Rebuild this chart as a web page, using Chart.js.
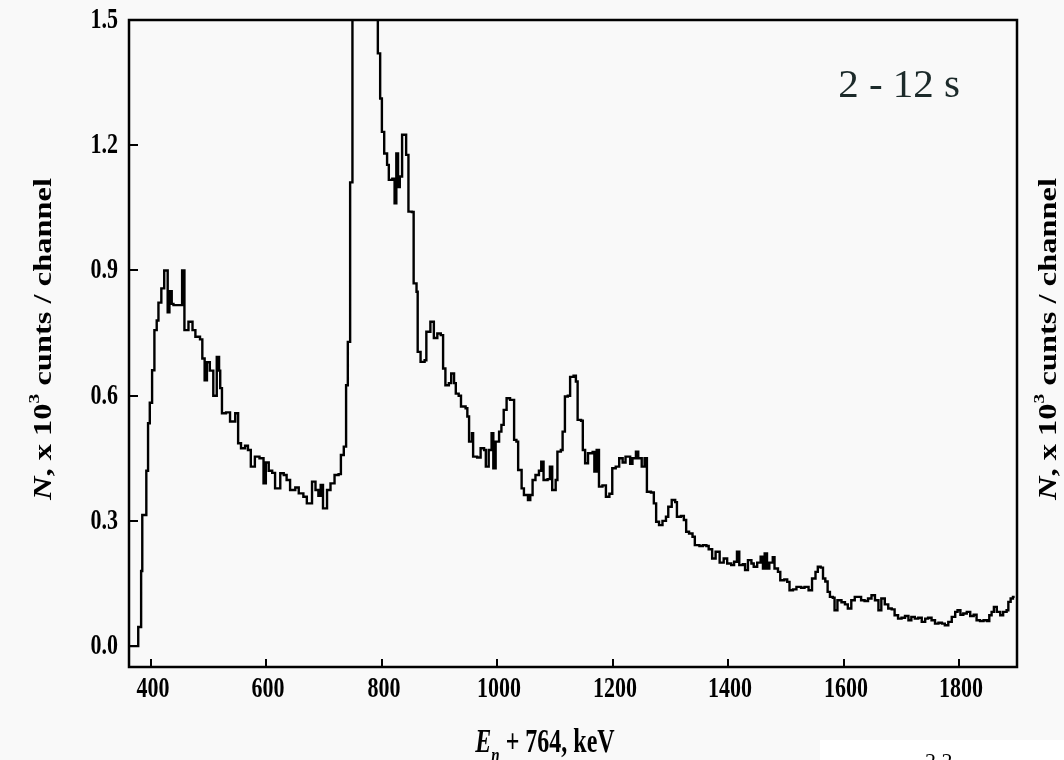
<!DOCTYPE html>
<html>
<head>
<meta charset="utf-8">
<script src="https://cdn.jsdelivr.net/npm/chart.js@4.4.0/dist/chart.umd.min.js"></script>
<style>
  html, body { margin: 0; padding: 0; background: #f9f9f9; }
</style>
</head>
<body>
<canvas id="spectrum" width="1064" height="760"></canvas>
<script>
// channel energy (E_n + 764, keV) where each step starts
var energy = [
  363, 378, 383, 385, 392, 395, 398, 402, 406, 410, 413, 418, 423, 429, 432, 436, 439, 446,
  454, 458, 465, 472, 477, 485, 489, 493, 497, 502, 508, 514, 518, 520, 523, 530, 537, 546,
  551, 556, 563, 568, 573, 580, 588, 595, 599, 604, 610, 615, 624, 630, 635, 641, 650, 656,
  664, 670, 679, 685, 690, 694, 698, 705, 711, 718, 725, 729, 734, 738, 741, 745, 749, 760,
  770, 780, 786, 793, 797, 800, 804, 809, 812, 818, 822, 825, 828, 831, 835, 842, 846, 852,
  855, 860, 862, 867, 874, 877, 884, 890, 896, 902, 906, 910, 916, 920, 925, 928, 933, 937,
  945, 948, 951, 956, 958, 965, 971, 977, 980, 985, 990, 993, 997, 1003, 1007, 1011, 1016, 1022,
  1029, 1033, 1036, 1042, 1046, 1053, 1057, 1061, 1066, 1072, 1076, 1080, 1087, 1091, 1095, 1101, 1104, 1110,
  1113, 1117, 1122, 1126, 1132, 1136, 1139, 1145, 1148, 1152, 1157, 1165, 1168, 1172, 1176, 1182, 1188, 1194,
  1199, 1205, 1211, 1217, 1222, 1230, 1234, 1240, 1244, 1250, 1255, 1259, 1266, 1271, 1275, 1280, 1286, 1292,
  1296, 1302, 1308, 1311, 1318, 1323, 1327, 1332, 1338, 1342, 1350, 1356, 1362, 1366, 1372, 1378, 1385, 1392,
  1398, 1405, 1410, 1415, 1419, 1425, 1429, 1434, 1440, 1444, 1450, 1456, 1460, 1463, 1467, 1471, 1477, 1480,
  1486, 1490, 1497, 1502, 1506, 1512, 1518, 1526, 1532, 1539, 1545, 1551, 1555, 1560, 1564, 1568, 1572, 1576,
  1581, 1584, 1589, 1596, 1602, 1607, 1613, 1619, 1625, 1630, 1636, 1642, 1648, 1654, 1660, 1665, 1671, 1677,
  1683, 1688, 1694, 1700, 1706, 1712, 1717, 1723, 1729, 1735, 1741, 1746, 1752, 1758, 1764, 1770, 1775, 1781,
  1787, 1793, 1797, 1802, 1807, 1813, 1819, 1825, 1830, 1836, 1842, 1848, 1852, 1856, 1860, 1865, 1871, 1876,
  1882, 1885, 1889, 1893, 1896
];
// counts, x 10^3 per channel
var counts = [
  0.0, 0.046, 0.18, 0.314, 0.42, 0.534, 0.583, 0.661, 0.757, 0.78, 0.823, 0.857, 0.9, 0.8, 0.85, 0.82, 0.817, 0.817,
  0.9, 0.757, 0.777, 0.757, 0.741, 0.735, 0.689, 0.637, 0.68, 0.66, 0.6, 0.693, 0.66, 0.618, 0.558, 0.56, 0.538, 0.558,
  0.486, 0.474, 0.48, 0.47, 0.43, 0.454, 0.45, 0.39, 0.44, 0.42, 0.415, 0.378, 0.414, 0.41, 0.398, 0.374, 0.38, 0.366,
  0.358, 0.342, 0.394, 0.374, 0.36, 0.386, 0.33, 0.374, 0.39, 0.41, 0.412, 0.458, 0.478, 0.625, 0.729, 1.111, 2.2, 3.5,
  4.0, 3.0, 2.0, 1.42, 1.312, 1.232, 1.18, 1.153, 1.117, 1.12, 1.061, 1.18, 1.1, 1.125, 1.225, 1.177, 1.041, 1.04,
  0.869, 0.849, 0.705, 0.681, 0.685, 0.753, 0.777, 0.738, 0.749, 0.745, 0.665, 0.625, 0.63, 0.653, 0.63, 0.605, 0.6, 0.574,
  0.57, 0.55, 0.49, 0.51, 0.454, 0.452, 0.474, 0.47, 0.43, 0.47, 0.51, 0.426, 0.49, 0.514, 0.53, 0.566, 0.594, 0.59,
  0.494, 0.49, 0.422, 0.378, 0.362, 0.35, 0.362, 0.398, 0.41, 0.42, 0.442, 0.398, 0.4, 0.43, 0.374, 0.398, 0.466, 0.47,
  0.514, 0.598, 0.6, 0.645, 0.648, 0.634, 0.542, 0.54, 0.47, 0.438, 0.462, 0.465, 0.418, 0.47, 0.382, 0.385, 0.358, 0.365,
  0.426, 0.43, 0.45, 0.44, 0.454, 0.437, 0.45, 0.466, 0.45, 0.43, 0.45, 0.37, 0.368, 0.342, 0.298, 0.29, 0.3, 0.31,
  0.334, 0.35, 0.345, 0.31, 0.312, 0.302, 0.274, 0.27, 0.262, 0.242, 0.24, 0.242, 0.24, 0.232, 0.21, 0.226, 0.2, 0.21,
  0.198, 0.194, 0.202, 0.226, 0.194, 0.196, 0.182, 0.206, 0.198, 0.19, 0.2, 0.214, 0.186, 0.222, 0.186, 0.2, 0.213, 0.186,
  0.178, 0.158, 0.16, 0.154, 0.134, 0.136, 0.142, 0.14, 0.142, 0.134, 0.162, 0.178, 0.19, 0.188, 0.162, 0.155, 0.13, 0.118,
  0.116, 0.086, 0.11, 0.105, 0.1, 0.09, 0.11, 0.118, 0.118, 0.11, 0.108, 0.114, 0.122, 0.11, 0.086, 0.114, 0.1, 0.09,
  0.088, 0.074, 0.066, 0.068, 0.072, 0.062, 0.07, 0.066, 0.068, 0.058, 0.066, 0.068, 0.062, 0.054, 0.056, 0.054, 0.05, 0.058,
  0.07, 0.082, 0.086, 0.075, 0.078, 0.082, 0.072, 0.075, 0.062, 0.06, 0.062, 0.06, 0.074, 0.082, 0.094, 0.082, 0.074, 0.082,
  0.086, 0.106, 0.114, 0.118, 0.118
];
var xTicks = [400, 600, 800, 1000, 1200, 1400, 1600, 1800];
var yTicks = [0.0, 0.3, 0.6, 0.9, 1.2, 1.5];
var timeLabel = '2 - 12 s';

var serif = '"Liberation Serif", "Times New Roman", serif';
var STRETCH = 1.3; // the scanned labels are taller than they are wide

// draw a run of differently styled pieces, centred on (cx, cy)
function richText(ctx, parts, cx, cy, rot, sx, sy) {
  ctx.save();
  ctx.translate(cx, cy);
  ctx.rotate(rot);
  ctx.scale(sx, sy);
  ctx.textAlign = 'left';
  ctx.textBaseline = 'alphabetic';
  var total = 0;
  parts.forEach(function (p) {
    ctx.font = p.font;
    p.w = ctx.measureText(p.text).width;
    total += p.w;
  });
  var x = -total / 2;
  parts.forEach(function (p) {
    ctx.font = p.font;
    ctx.fillText(p.text, x, p.dy || 0);
    x += p.w;
  });
  ctx.restore();
}

function tallText(ctx, text, x, y, align) {
  ctx.save();
  ctx.translate(x, y);
  ctx.scale(1, STRETCH);
  ctx.textAlign = align;
  ctx.textBaseline = 'middle';
  ctx.fillText(text, 0, 0);
  ctx.restore();
}

var framePlugin = {
  id: 'frame',
  beforeDraw: function (chart) {
    var ctx = chart.ctx;
    ctx.save();
    ctx.fillStyle = '#f9f9f9';
    ctx.fillRect(0, 0, chart.width, chart.height);
    ctx.restore();
  },
  afterDraw: function (chart) {
    var ctx = chart.ctx, a = chart.chartArea;
    var xs = chart.scales.x, ys = chart.scales.y;
    ctx.save();
    ctx.strokeStyle = '#000';
    ctx.lineWidth = 2.5;
    ctx.strokeRect(a.left, a.top, a.right - a.left, a.bottom - a.top);

    // inward ticks and their labels
    ctx.lineWidth = 2;
    ctx.fillStyle = '#000';
    ctx.font = 'bold 22px ' + serif;
    ctx.beginPath();
    ys.ticks.forEach(function (t) {
      var py = Math.round(ys.getPixelForValue(t.value));
      ctx.moveTo(a.left, py);
      ctx.lineTo(a.left + 9, py);
      tallText(ctx, t.value.toFixed(1), a.left - 11, py + 1, 'right');
    });
    xs.ticks.forEach(function (t) {
      var px = Math.round(xs.getPixelForValue(t.value));
      ctx.moveTo(px, a.bottom);
      ctx.lineTo(px, a.bottom - 8);
      tallText(ctx, String(t.value), px + 2, a.bottom + 23, 'center');
    });
    ctx.stroke();

    var yTitle = [
      { text: 'N', font: 'italic bold 25px ' + serif },
      { text: ', x 10', font: 'bold 25px ' + serif },
      { text: '3', font: 'bold 15px ' + serif, dy: -12 },
      { text: ' cunts / channel', font: 'bold 25px ' + serif }
    ];
    richText(ctx, yTitle, 51, 339, -Math.PI / 2, STRETCH, 1);
    richText(ctx, yTitle, 1056, 339, -Math.PI / 2, STRETCH, 1);

    richText(ctx, [
      { text: 'E', font: 'italic bold 24px ' + serif },
      { text: 'n', font: 'italic bold 15px ' + serif, dy: 7 },
      { text: ' + 764, keV', font: 'bold 24px ' + serif }
    ], 545, 752, 0, 1, 1.4);

    ctx.fillStyle = '#1c2a2a';
    ctx.font = '41px ' + serif;
    ctx.textAlign = 'right';
    ctx.fillText(timeLabel, 960, 97);

    // white patch in the lower right corner of the scan
    ctx.fillStyle = '#ffffff';
    ctx.fillRect(820, 740, 244, 20);
    ctx.fillStyle = '#000';
    ctx.font = '22px ' + serif;
    ctx.textAlign = 'left';
    ctx.fillText('2.2 \u2013', 925, 768);
    ctx.restore();
  }
};

var points = energy.map(function (e, i) { return { x: e, y: counts[i] }; });

new Chart(document.getElementById('spectrum').getContext('2d'), {
  type: 'line',
  data: {
    datasets: [{
      data: points,
      stepped: true,
      borderColor: '#000',
      borderWidth: 2.4,
      pointRadius: 0,
      fill: false
    }]
  },
  options: {
    responsive: false,
    animation: false,
    layout: { padding: { left: 0, top: 20, right: 47, bottom: 0 } },
    plugins: { legend: { display: false }, tooltip: { enabled: false } },
    scales: {
      x: {
        type: 'linear',
        min: 362,
        max: 1900,
        grid: { display: false, drawTicks: false },
        border: { display: false },
        afterBuildTicks: function (scale) {
          scale.ticks = xTicks.map(function (v) { return { value: v }; });
        },
        afterFit: function (scale) { scale.height = 93; },
        ticks: { display: false }
      },
      y: {
        min: -0.05,
        max: 1.5,
        grid: { display: false, drawTicks: false },
        border: { display: false },
        afterBuildTicks: function (scale) {
          scale.ticks = yTicks.map(function (v) { return { value: v }; });
        },
        afterFit: function (scale) { scale.width = 129; },
        ticks: { display: false }
      }
    }
  },
  plugins: [framePlugin]
});
</script>
</body>
</html>
